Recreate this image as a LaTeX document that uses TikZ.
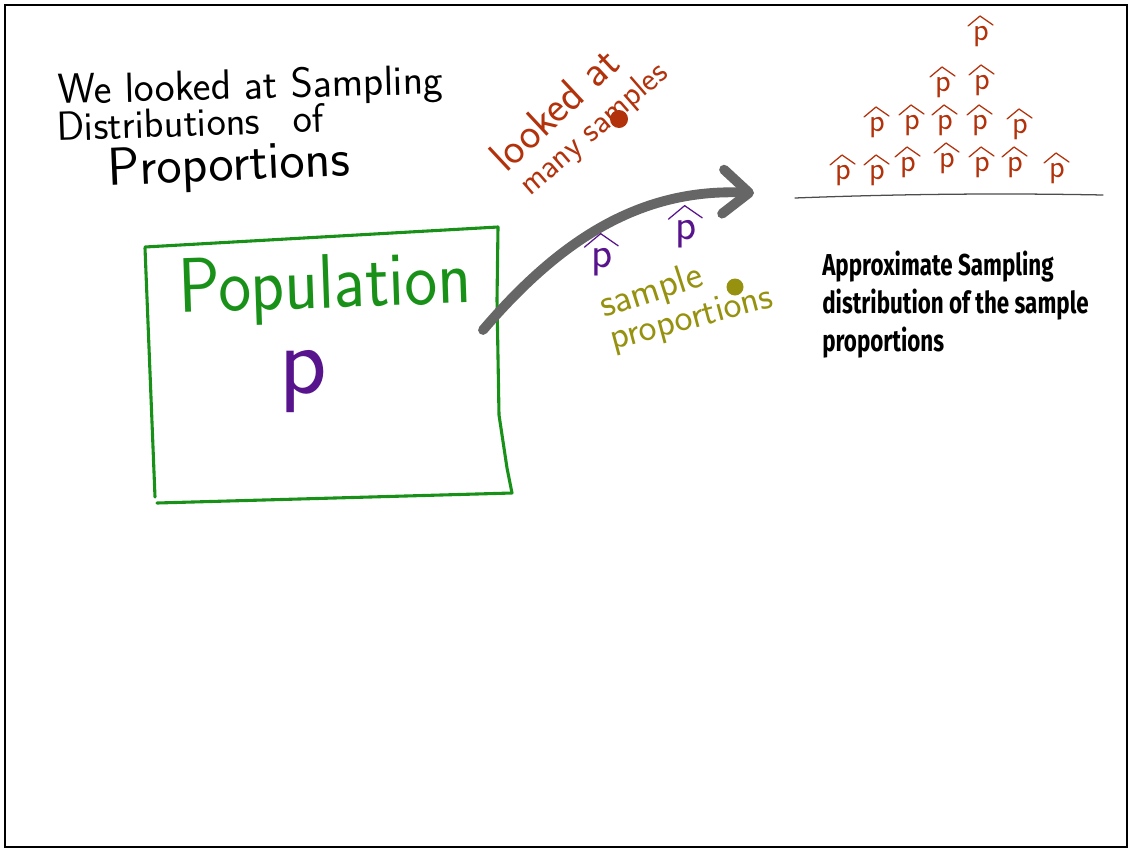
\documentclass[tikz,border=0pt]{standalone}
\usepackage{fontspec}
\usetikzlibrary{arrows.meta}
\newfontfamily\notefont[FakeStretch=0.74]{Fira Sans}
\definecolor{popgreen}{RGB}{25,145,25}
\definecolor{parpurple}{RGB}{88,20,140}
\definecolor{samred}{RGB}{178,50,12}
\definecolor{propolive}{RGB}{150,145,15}
\definecolor{arrowgray}{RGB}{102,102,102}
\tikzset{
  hand/.style={font=\sffamily,inner sep=0pt},
  phat/.pic={
    \node[inner sep=0pt,transform shape,font=\sffamily\fontsize{23}{23}\selectfont] (-p) {p};
    \draw[line width=0.9pt,line cap=round,line join=round] (-13,-11) -- (-1,-21) -- (12,-12);
  }
}

\begin{document}
\begin{tikzpicture}[x=0.025cm,y=-0.025cm,line cap=round]
\useasboundingbox (0,0) rectangle (1129,849);
\draw[line width=2pt] (5,5) rectangle (1127,847);
% title
\node[hand,anchor=base west,rotate=1.5,font=\sffamily\fontsize{30}{30}\selectfont] (title1) at (58,104) {We looked at Sampling};
\node[hand,anchor=base west,rotate=2,font=\sffamily\fontsize{29}{29}\selectfont] (title2) at (57,141) {Distributions\hspace{0.8em}of};
\node[hand,anchor=base west,rotate=2.5,font=\sffamily\fontsize{38}{38}\selectfont] (title3) at (108,186) {Proportions};
% population box
\draw[popgreen,line width=2.2pt,line join=round] (145,247) -- (498,227) -- (497,300) -- (499,415) -- (507,468) -- (512,493)
  -- (157,503);
\draw[popgreen,line width=2.2pt] (145,248) -- (155,497);
\node[hand,anchor=base west,rotate=2,xscale=0.9,text=popgreen,font=\sffamily\fontsize{55}{55}\selectfont] (pop) at (179,313) {Population};
\node[hand,text=parpurple,font=\sffamily\fontsize{70}{70}\selectfont] (par) at (303,382) {p};
% many samples
\node[hand,anchor=base west,rotate=43,text=samred,font=\sffamily\fontsize{31}{31}\selectfont] (looked) at (506,174) {looked at};
\node[hand,anchor=base west,rotate=41,text=samred,font=\sffamily\fontsize{24}{24}\selectfont] (many) at (530,197) {many samples};
\fill[samred] (619,119) circle (9);
% arrow to the distribution
\coordinate (from) at (483,330);
\coordinate (to) at (754,193);
\draw[arrowgray,line width=7pt,-{Straight Barb[length=0.65cm,width=1.1cm,round]}]
  (from) .. controls (560,240) and (640,188) .. (to);
\pic[parpurple,scale=1.35] at (602,262) {phat};
\pic[parpurple,scale=1.35] at (686,234) {phat};
\node[hand,anchor=base west,rotate=18,text=propolive,font=\sffamily\fontsize{28}{28}\selectfont] (sample) at (604,318) {sample};
\node[hand,anchor=base west,rotate=15,text=propolive,font=\sffamily\fontsize{27}{27}\selectfont] (props) at (613,350) {proportions};
\fill[propolive] (735,287) circle (8.5);
% stacked sample proportions
\foreach \px/\py in {981/37, 943/88, 982/86,
  877/128, 912/126, 945/126, 980/126, 1020/130,
  843/176, 877/176, 908/168, 947/164, 982/168, 1015/168, 1057/174}
  \pic[samred] at (\px,\py) {phat};
\draw[black!70,line width=0.9pt] (795,198) .. controls (900,194) and (1000,193) .. (1103,195);
\node[anchor=north west,align=left,inner sep=0pt,font=\notefont\bfseries\fontsize{21.5}{27}\selectfont] (caption) at (822,251)
  {Approximate Sampling\\distribution of the sample\\proportions};
\end{tikzpicture}
\end{document}
